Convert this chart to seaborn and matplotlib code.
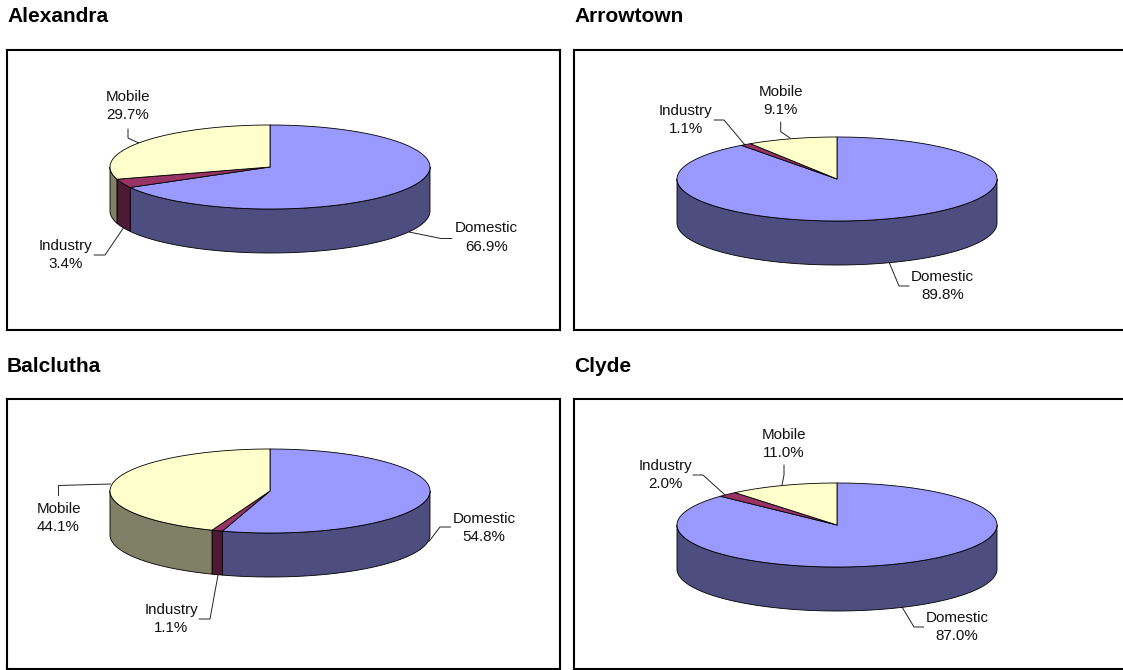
import numpy as np
import matplotlib
matplotlib.use("Agg")
import matplotlib.pyplot as plt
from matplotlib.patches import Polygon
import seaborn as sns

# Share of emissions by source for each town
towns = ["Alexandra", "Arrowtown", "Balclutha", "Clyde"]
sources = ["Domestic", "Industry", "Mobile"]
alexandra = [66.9, 3.4, 29.7]
arrowtown = [89.8, 1.1, 9.1]
balclutha = [54.8, 1.1, 44.1]
clyde = [87.0, 2.0, 11.0]
shares = [alexandra, arrowtown, balclutha, clyde]

sns.set_theme(style="white", rc={"font.family": ["Liberation Sans", "DejaVu Sans"]})
top_colours = sns.color_palette(["#9999FF", "#993366", "#FFFFCC"])
wall_colours = sns.color_palette(["#4D4D80", "#4D1A33", "#808066"])

W, H = 1123, 670
# frame left, top, right, bottom, in pixels
frames = {
    "Alexandra": (7, 50, 560, 330),
    "Arrowtown": (574, 50, 1127, 330),
    "Balclutha": (7, 399, 560, 669),
    "Clyde": (574, 399, 1127, 669),
}
title_y = {"Alexandra": 16, "Arrowtown": 16, "Balclutha": 366, "Clyde": 366}
# ellipse centre of the top face
centres = {
    "Alexandra": (270, 167),
    "Arrowtown": (837, 179),
    "Balclutha": (270, 491),
    "Clyde": (837, 525),
}
RX, RY, DEPTH = 160, 42, 44
# label centre and leader polyline for each source
labels = {
    "Alexandra": [((486.5, 237.5), [(452, 238.5), (441, 238.5), (409, 232)]),
                  ((65.7, 255), [(94, 255), (105, 255), (123, 228.5)]),
                  ((128, 106), [(128, 129), (128, 138), (141, 144)])],
    "Arrowtown": [((942.5, 286), [(909, 286), (899, 286), (889, 262)]),
                  ((685.7, 120), [(714, 120), (724, 120), (745, 145)]),
                  ((780.7, 101), [(780.7, 122), (780.7, 131.7), (790, 138)])],
    "Balclutha": [((484, 528), [(450.6, 527), (440, 527), (429, 541.4)]),
                  ((171, 619), [(199, 619), (210, 619), (218, 575)]),
                  ((58.5, 518), [(58.5, 495.5), (58.5, 485.5), (110.6, 484)])],
    "Clyde": [((957, 627), [(923.7, 627), (914, 627), (902, 607)]),
              ((665, 475), [(693, 475), (703, 475), (725, 495)]),
              ((784, 444), [(784, 465), (784, 475), (782, 485)])],
}


def ellipse_points(cx, cy, start, stop, drop=0.0):
    """Points along the rim between two clockwise angles measured from 12 o'clock."""
    n = max(int(abs(stop - start)) + 2, 3)
    t = np.radians(np.linspace(start, stop, n))
    return np.column_stack([cx + RX * np.sin(t), cy - RY * np.cos(t) + drop])


fig = plt.figure(figsize=(W / 100, H / 100), dpi=100, facecolor="white")

for town, values in zip(towns, shares):
    left, top, right, bottom = frames[town]
    ax = fig.add_axes([left / W, 1 - bottom / H, (right - left) / W, (bottom - top) / H])
    ax.set_xlim(left, right)
    ax.set_ylim(bottom, top)
    ax.set_xticks([])
    ax.set_yticks([])
    ax.set_facecolor("white")
    for spine in ax.spines.values():
        spine.set_color("black")
        spine.set_linewidth(1.5)

    cx, cy = centres[town]
    edges = np.concatenate([[0], np.cumsum(values)]) * 360 / np.sum(values)

    # outer wall: only the part of each slice facing the viewer
    for a, b, colour in zip(edges[:-1], edges[1:], wall_colours):
        lo, hi = max(a, 90), min(b, 270)
        if hi > lo:
            rim = ellipse_points(cx, cy, lo, hi)
            base = ellipse_points(cx, cy, hi, lo, DEPTH)
            ax.add_patch(Polygon(np.vstack([rim, base]), closed=True, facecolor=colour,
                                 edgecolor="black", linewidth=0.6, joinstyle="round"))

    # top face
    for a, b, colour in zip(edges[:-1], edges[1:], top_colours):
        rim = ellipse_points(cx, cy, a, b)
        ax.add_patch(Polygon(np.vstack([[cx, cy], rim]), closed=True, facecolor=colour,
                             edgecolor="black", linewidth=0.6, joinstyle="round"))

    # labels and leaders, with leaders tucked behind the pie
    for source, value, (pos, leader) in zip(sources, values, labels[town]):
        xs, ys = zip(*leader)
        ax.plot(xs, ys, color="#222222", linewidth=0.7, solid_joinstyle="miter", zorder=0.5)
        ax.text(pos[0], pos[1], f"{source}\n{value:.1f}%", ha="center", va="center",
                fontsize=10.9, color="#111111", linespacing=1.43, zorder=5)

    fig.text(left / W, 1 - title_y[town] / H, town, ha="left", va="center",
             fontsize=15, fontweight="bold", color="black")

fig.savefig("out.png", dpi=100, facecolor="white")
